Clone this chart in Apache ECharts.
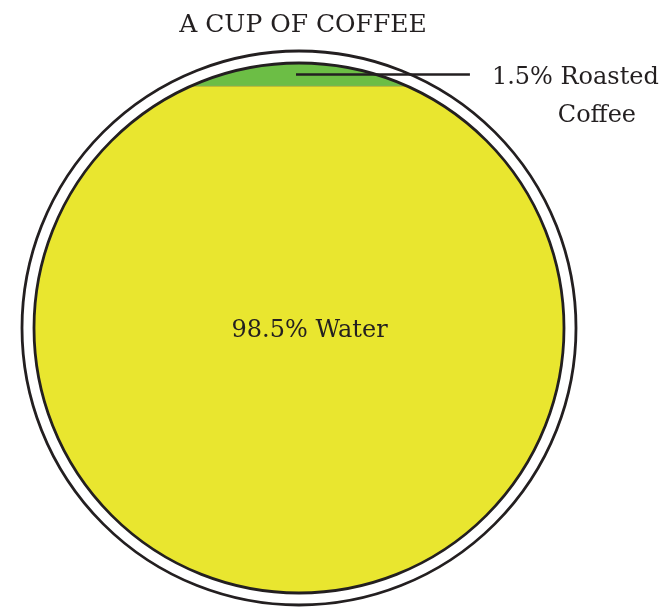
<!DOCTYPE html>
<html><head><meta charset="utf-8">
<script src="https://cdn.jsdelivr.net/npm/echarts@6/dist/echarts.min.js"></script>
<style>html,body{margin:0;padding:0;background:#fff}#c{width:660px;height:609px}</style>
</head><body><div id="c"></div>
<script>
var chartTitle = 'A CUP OF COFFEE';
var categories = ['Water', 'Roasted Coffee'];
var values = [98.5, 1.5];
var labelTexts = ['98.5% Water', '1.5% Roasted', 'Coffee'];

var FILLS = ['#e9e62f', '#6cbe45'];
var INK = '#231f20';
var FAMILY = 'DejaVu Serif';

function areaBelow(t) { return (t * Math.sqrt(1 - t * t) + Math.asin(t) + Math.PI / 2) / Math.PI; }
function levelFor(f) {
  if (f <= 0) return -1; if (f >= 1) return 1;
  var lo = -1, hi = 1;
  for (var i = 0; i < 60; i++) { var m = (lo + hi) / 2; if (areaBelow(m) < f) lo = m; else hi = m; }
  return (lo + hi) / 2;
}
var total = values.reduce(function (a, b) { return a + b; }, 0);
var segData = []; var acc = 0;
values.forEach(function (v, i) { segData.push([acc / total, (acc + v) / total, i]); acc += v; });

function txt(x, y, s, size, align) {
  return { type: 'text', x: x, y: y, style: { text: s, fontFamily: FAMILY, fontSize: size, fill: INK, align: align, verticalAlign: 'middle' } };
}

var chart = echarts.init(document.getElementById('c'));
chart.setOption({
  animation: false,
  title: { text: chartTitle, left: 298, textAlign: 'center', top: 8, textStyle: { fontFamily: FAMILY, fontWeight: 'normal', fontSize: 25, color: INK } },
  grid: { left: 34, top: 63, width: 530, height: 530 },
  xAxis: { type: 'value', min: -1, max: 1, show: false },
  yAxis: { type: 'value', min: -1, max: 1, show: false },
  series: [
    {
      type: 'custom', coordinateSystem: 'cartesian2d', data: segData,
      renderItem: function (params, api) {
        var f0 = api.value(0), f1 = api.value(1), idx = api.value(2);
        var y0 = levelFor(f0), y1 = levelFor(f1);
        var a0 = Math.asin(y0), a1 = Math.asin(y1), N = 90, pts = [], i, p;
        for (i = 0; i <= N; i++) { p = a0 + (a1 - a0) * i / N; pts.push(api.coord([Math.cos(p), Math.sin(p)])); }
        for (i = 0; i <= N; i++) { p = (Math.PI - a1) + (a1 - a0) * i / N; pts.push(api.coord([Math.cos(p), Math.sin(p)])); }
        var children = [{ type: 'polygon', shape: { points: pts }, style: { fill: FILLS[idx], stroke: null } }];
        if (y1 < 1) {
          var xe = Math.sqrt(1 - y1 * y1);
          var l0 = api.coord([-xe, y1]), l1 = api.coord([xe, y1]);
          children.push({ type: 'line', shape: { x1: l0[0], y1: l0[1], x2: l1[0], y2: l1[1] }, style: { stroke: '#6b7440', lineWidth: 1 } });
        }
        if (idx === 0) {
          var c = api.coord([0.04, -0.01]);
          children.push(txt(c[0], c[1], labelTexts[0], 24, 'center'));
        } else {
          var mid = api.coord([0, (y0 + y1) / 2]);
          var end = api.coord([0.645, (y0 + y1) / 2]);
          children.push({ type: 'line', shape: { x1: mid[0] - 3, y1: mid[1], x2: end[0], y2: end[1] }, style: { stroke: INK, lineWidth: 2.6 } });
          children.push(txt(end[0] + 22, end[1] + 3, labelTexts[1], 24, 'left'));
          children.push(txt(end[0] + 127, end[1] + 41, labelTexts[2], 24, 'center'));
        }
        return { type: 'group', children: children };
      }
    },
    {
      type: 'custom', coordinateSystem: 'cartesian2d', data: [[0, 0]], z: 5,
      renderItem: function (params, api) {
        var c = api.coord([0, 0]);
        var r = api.size([1, 0])[0];
        return { type: 'group', children: [
          { type: 'circle', shape: { cx: c[0], cy: c[1], r: r }, style: { fill: null, stroke: INK, lineWidth: 2.8 } },
          { type: 'circle', shape: { cx: c[0], cy: c[1], r: r + 12 }, style: { fill: null, stroke: INK, lineWidth: 2.8 } }
        ] };
      }
    }
  ]
});
</script></body></html>
